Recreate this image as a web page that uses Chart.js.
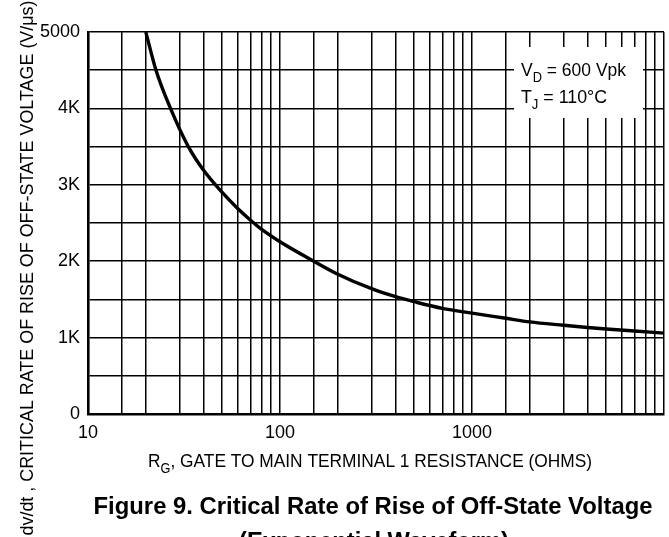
<!DOCTYPE html>
<html>
<head>
<meta charset="utf-8">
<script src="https://cdn.jsdelivr.net/npm/chart.js@4.4.1/dist/chart.umd.min.js"></script>
<style>
  html, body { margin: 0; padding: 0; background: #fff; }
  canvas { display: block; }
</style>
</head>
<body>
<canvas id="myChart" width="669" height="537"></canvas>
<script>
// gate resistance (ohms)
const resistance = [20, 22.6, 26.9, 33.3, 40, 50, 60, 70, 80, 100, 150, 200, 300, 400, 500, 700, 1000, 1500, 2000, 3000, 4000, 5000, 7000, 10000];
// critical dv/dt (V/us)
const dvdt = [5000, 4500, 4000, 3500, 3190, 2900, 2693, 2540, 2420, 2255, 2000, 1830, 1640, 1535, 1470, 1383, 1320, 1253, 1205, 1161, 1132, 1112, 1086, 1058];

// log grid lines on the x axis
const xTicks = [10, 15, 20, 30, 40, 50, 60, 70, 80, 90,
  100, 150, 200, 300, 400, 500, 600, 700, 800, 900,
  1000, 1500, 2000, 3000, 4000, 5000, 6000, 7000, 8000, 9000, 10000];
const xTickLabels = { 10: '10', 100: '100', 1000: '1000' };
const yTickLabels = ['0', '', '1K', '', '2K', '', '3K', '', '4K', '', '5000'];

const yTitle = 'dv/dt , CRITICAL RATE OF RISE OF OFF-STATE VOLTAGE (V/\u03BCs)';
const xTitle = [['R', false], ['G', true], [', GATE TO MAIN TERMINAL 1 RESISTANCE (OHMS)', false]];
const noteLines = [
  [['V', false], ['D', true], [' = 600 Vpk', false]],
  [['T', false], ['J', true], [' = 110\u00B0C', false]]
];
const caption = ['Figure 9. Critical Rate of Rise of Off-State Voltage', '(Exponential Waveform)'];

const FONT = "'Liberation Sans', Arial, Helvetica, sans-serif";

// draw text with sub-scripted parts, squeezed to a given width
function drawParts(ctx, parts, x, y, width, size, align) {
  const subSize = Math.round(size * 0.72);
  let total = 0;
  parts.forEach(p => {
    ctx.font = (p[1] ? subSize : size) + 'px ' + FONT;
    total += ctx.measureText(p[0]).width;
  });
  const k = width / total;
  let start = align === 'center' ? x - width / 2 : x;
  ctx.save();
  ctx.translate(start, y);
  ctx.scale(k, 1);
  ctx.textAlign = 'left';
  ctx.textBaseline = 'alphabetic';
  let cx = 0;
  parts.forEach(p => {
    ctx.font = (p[1] ? subSize : size) + 'px ' + FONT;
    ctx.fillText(p[0], cx, p[1] ? size * 0.3 : 0);
    cx += ctx.measureText(p[0]).width;
  });
  ctx.restore();
}

function drawFitted(ctx, text, x, y, width, font) {
  ctx.save();
  ctx.font = font;
  const k = width / ctx.measureText(text).width;
  ctx.translate(x, y);
  ctx.scale(k, 1);
  ctx.textAlign = 'center';
  ctx.textBaseline = 'alphabetic';
  ctx.fillText(text, 0, 0);
  ctx.restore();
}

const textPlugin = {
  id: 'figureText',
  afterDraw(chart) {
    const ctx = chart.ctx;
    const a = chart.chartArea;
    ctx.save();

    // note box over the grid
    ctx.fillStyle = '#fff';
    ctx.fillRect(a.right - 150, a.top + 15, 129, 71);
    ctx.fillStyle = '#000';
    drawParts(ctx, noteLines[0], a.right - 143, a.top + 44, 105, 19, 'left');
    drawParts(ctx, noteLines[1], a.right - 143, a.top + 71, 86, 19, 'left');

    // x title
    drawParts(ctx, xTitle, (a.left + a.right) / 2 - 6, a.bottom + 53, 444, 19, 'center');

    // caption
    drawFitted(ctx, caption[0], (a.left + a.right) / 2 - 3, a.bottom + 100, 559, 'bold 23px ' + FONT);
    drawFitted(ctx, caption[1], (a.left + a.right) / 2 - 2, a.bottom + 135, 270, 'bold 23px ' + FONT);

    // y title, rotated
    ctx.save();
    ctx.translate(33, 268);
    ctx.rotate(-Math.PI / 2);
    drawFitted(ctx, yTitle, 0, 0, 535, '19px ' + FONT);
    ctx.restore();

    ctx.restore();
  }
};

const ctx = document.getElementById('myChart').getContext('2d');

const myChart = new Chart(ctx, {
  type: 'line',
  data: {
    datasets: [{
      data: resistance.map((r, i) => ({ x: r, y: dvdt[i] })),
      borderColor: '#000',
      borderWidth: 3.4,
      pointRadius: 0,
      fill: false,
      cubicInterpolationMode: 'monotone'
    }]
  },
  options: {
    responsive: false,
    animation: false,
    devicePixelRatio: 1,
    layout: { padding: { top: 32, right: 5, left: 0, bottom: 0 } },
    plugins: {
      legend: { display: false },
      tooltip: { enabled: false }
    },
    scales: {
      x: {
        type: 'logarithmic',
        min: 10,
        max: 10000,
        afterBuildTicks: s => { s.ticks = xTicks.map(v => ({ value: v })); },
        afterFit: s => {
          s.height = 123;
          s.paddingLeft = 0;
          s.paddingRight = 0;
        },
        ticks: {
          autoSkip: false,
          maxRotation: 0,
          padding: 8,
          color: '#000',
          font: { family: FONT, size: 18 },
          callback: v => xTickLabels[v] || ''
        },
        grid: { color: '#000', lineWidth: 1.5, drawTicks: false },
        border: { color: '#000', width: 2.6 }
      },
      y: {
        min: 0,
        max: 5000,
        afterFit: s => { s.width = 88; },
        ticks: {
          stepSize: 500,
          padding: 8,
          color: '#000',
          font: { family: FONT, size: 18 },
          callback: (v, i) => yTickLabels[i]
        },
        grid: { color: '#000', lineWidth: 1.5, drawTicks: false },
        border: { color: '#000', width: 2.6 }
      }
    }
  },
  plugins: [textPlugin]
});
</script>
</body>
</html>
